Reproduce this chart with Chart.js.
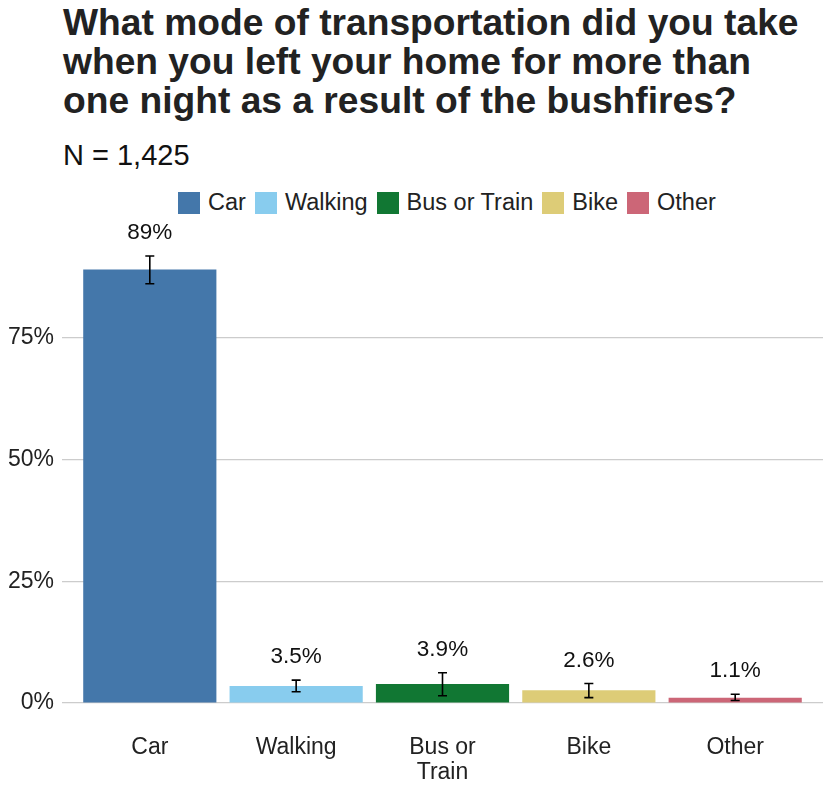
<!DOCTYPE html>
<html>
<head>
<meta charset="utf-8">
<script src="https://cdn.jsdelivr.net/npm/chart.js@4"></script>
<style>
  body { margin: 0; background: #fff; font-family: "Liberation Sans", Arial, sans-serif; color: #1a1a1a; }
  #wrap { position: relative; width: 830px; height: 805px; }
  #title { position: absolute; left: 63px; top: 3px; font-weight: bold; font-size: 37.2px; line-height: 39px; color: #222; white-space: nowrap; }
  #sub { position: absolute; left: 63px; top: 138px; font-size: 29px; line-height: 34px; color: #111; }
  #legend { position: absolute; left: 178px; top: 189px; display: flex; align-items: center; font-size: 23.5px; color: #222; }
  .item { display: flex; align-items: center; margin-right: 9px; }
  .box { width: 22px; height: 22px; margin-right: 8px; }
  canvas { position: absolute; left: 0; top: 0; }
</style>
</head>
<body>
<div id="wrap">
  <div id="title">What mode of transportation did you take<br>when you left your home for more than<br>one night as a result of the bushfires?</div>
  <div id="sub">N = 1,425</div>
  <div id="legend"></div>
  <canvas id="c" width="830" height="805"></canvas>
</div>
<script>
// --- Data ---
const categories = ["Car", "Walking", "Bus or Train", "Bike", "Other"];
const tickLabels = ["Car", "Walking", ["Bus or", "Train"], "Bike", "Other"];
const values = [89, 3.5, 3.9, 2.6, 1.1];
const valueLabels = ["89%", "3.5%", "3.9%", "2.6%", "1.1%"];
const errLow = [86.1, 2.3, 1.5, 1.1, 0.5];
const errHigh = [91.8, 4.7, 6.2, 4.0, 1.8];
const colors = ["#4477AA", "#88CCEE", "#117733", "#DDCC77", "#CC6677"];
const positions = [1, 2, 3, 4, 5];
const yTicks = [0, 25, 50, 75];

// --- Legend ---
const legendEl = document.getElementById("legend");
categories.forEach((name, i) => {
  const div = document.createElement("div");
  div.className = "item";
  div.innerHTML = `<span class="box" style="background:${colors[i]}"></span><span>${name}</span>`;
  legendEl.appendChild(div);
});

// --- Error bars & value labels ---
const errorBars = {
  id: "errorBars",
  afterDatasetsDraw(chart) {
    const ctx = chart.ctx;
    const x = chart.scales.x, y = chart.scales.y;
    ctx.save();
    ctx.strokeStyle = "#000";
    ctx.lineWidth = 1.6;
    positions.forEach((p, i) => {
      const px = x.getPixelForValue(p);
      const top = y.getPixelForValue(errHigh[i]);
      const bot = y.getPixelForValue(errLow[i]);
      ctx.beginPath();
      ctx.moveTo(px, top); ctx.lineTo(px, bot);
      ctx.moveTo(px - 4.5, top); ctx.lineTo(px + 4.5, top);
      ctx.moveTo(px - 4.5, bot); ctx.lineTo(px + 4.5, bot);
      ctx.stroke();
    });
    ctx.fillStyle = "#111";
    ctx.font = "22.5px 'Liberation Sans', Arial, sans-serif";
    ctx.textAlign = "center";
    ctx.textBaseline = "middle";
    positions.forEach((p, i) => {
      ctx.fillText(valueLabels[i], x.getPixelForValue(p), y.getPixelForValue(errHigh[i]) - 23);
    });
    ctx.restore();
  }
};

// --- Chart ---
const chart = new Chart(document.getElementById("c").getContext("2d"), {
  type: "bar",
  data: {
    datasets: [{
      data: positions.map((p, i) => ({ x: p, y: values[i] })),
      backgroundColor: colors,
      barPercentage: 0.91,
      categoryPercentage: 1
    }]
  },
  options: {
    responsive: false,
    animation: false,
    layout: { padding: { top: 216, left: 7, right: 7, bottom: 0 } },
    plugins: { legend: { display: false }, tooltip: { enabled: false } },
    scales: {
      x: {
        type: "linear",
        min: 0.4, max: 5.6,
        offset: false,
        grid: { display: false },
        border: { display: false },
        afterBuildTicks: s => { s.ticks = positions.map(v => ({ value: v })); },
        afterFit: s => { s.height = 102; },
        ticks: {
          padding: 24,
          autoSkip: false,
          maxRotation: 0,
          color: "#222",
          font: { family: "'Liberation Sans', Arial, sans-serif", size: 23, lineHeight: 1.1 },
          callback: (v, i) => tickLabels[i]
        }
      },
      y: {
        min: 0, max: 100,
        grid: { color: "#cccccc", lineWidth: 1.2, drawTicks: false },
        border: { display: false },
        afterBuildTicks: s => { s.ticks = yTicks.map(v => ({ value: v })); },
        afterFit: s => { s.width = 55; },
        ticks: {
          padding: 8,
          color: "#222",
          font: { family: "'Liberation Sans', Arial, sans-serif", size: 23 },
          callback: v => v + "%"
        }
      }
    }
  },
  plugins: [errorBars]
});
</script>
</body>
</html>
